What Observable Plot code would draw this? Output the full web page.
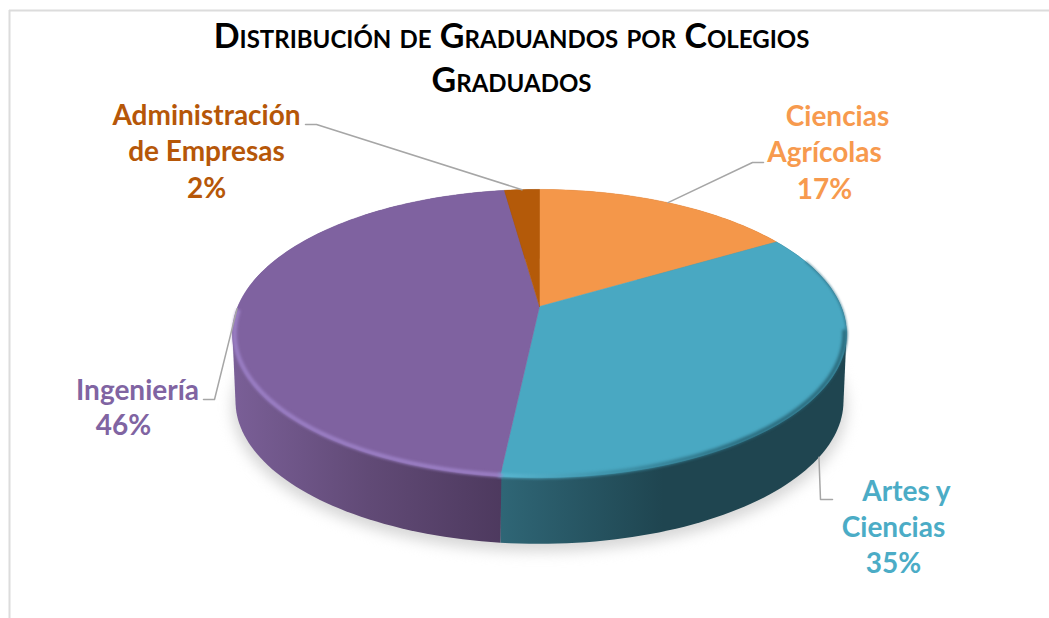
<!DOCTYPE html>
<html>
<head>
<meta charset="utf-8">
<style>html,body{margin:0;padding:0;background:#fff;overflow:hidden}svg{display:block}</style>
<script src="https://cdn.jsdelivr.net/npm/d3@7"></script>
<script src="https://cdn.jsdelivr.net/npm/@observablehq/plot@0.6"></script>
</head>
<body>
<div id="chart"></div>
<script>
// Data (clockwise from the top of the pie); shares read from the slice edges
const categories = ["Ciencias Agrícolas", "Artes y Ciencias", "Ingeniería", "Administración de Empresas"];
const shares = [16.5, 35.2, 46.1, 2.2];
const percentLabels = ["17%", "35%", "46%", "2%"];
const titleLines = ["Distribución de Graduandos por Colegios", "Graduados"];

// Style
const topColors = ["#f4974a", "#49a8c2", "#7f62a0", "#b45a09"];
const labelColors = ["#f79a4e", "#4bacc6", "#8064a2", "#b65708"];
const wallFills = ["#a85f20", "url(#wallTeal)", "url(#wallPurple)", "#7a3d06"];

// Layout of the tilted pie: a circle seen in perspective
const cx = 539, cy = 306, B = 301.6, A = 139, k = 0.1875;
const depth = 68, wallScale = 0.99;
const W = 1049, H = 618;
const rad = d => d * Math.PI / 180;
function rim(deg, s = 1, dy = 0) {
  const t = rad(deg), den = 1 + k * Math.cos(t);
  return {x: cx + s * B * Math.sin(t) / den, y: cy + dy - s * A * Math.cos(t) / den};
}
function arc(d0, d1, s = 1, dy = 0) {
  const n = Math.max(2, Math.ceil(Math.abs(d1 - d0) / 1.5));
  return d3.range(n + 1).map(i => rim(d0 + (d1 - d0) * i / n, s, dy));
}
function hull(points) {
  const h = d3.polygonHull(points.map(p => [p.x, p.y])).map(([x, y]) => ({x, y}));
  h.push(h[0]);
  return h;
}
const total = d3.sum(shares);
let acc = 0;
const slices = shares.map((v, i) => {
  const d0 = acc / total * 360; acc += v;
  return {i, d0, d1: acc / total * 360, mid: (d0 + acc / total * 360) / 2};
});

// Layout of the labels
const labelLines = [
  {i: 0, text: "Ciencias", x: 837, y: 117},
  {i: 0, text: "Agrícolas", x: 824, y: 153},
  {i: 0, text: percentLabels[0], x: 824, y: 190},
  {i: 1, text: "Artes y", x: 906, y: 492},
  {i: 1, text: "Ciencias", x: 893, y: 528},
  {i: 1, text: percentLabels[1], x: 893, y: 564},
  {i: 2, text: "Ingeniería", x: 137, y: 391},
  {i: 2, text: percentLabels[2], x: 123, y: 426},
  {i: 3, text: "Administración", x: 206, y: 116},
  {i: 3, text: "de Empresas", x: 206, y: 152},
  {i: 3, text: percentLabels[3], x: 206, y: 189}
];
const leaderBends = [
  {i: 0, elbow: [752, 162], end: [763, 162], onWall: false},
  {i: 1, elbow: [820, 499], end: [832, 499], onWall: true},
  {i: 2, elbow: [214, 399], end: [203, 399], onWall: false},
  {i: 3, elbow: [316, 124], end: [305, 124], onWall: false}
];

const defs = () => {
  const d = d3.create("svg:defs");
  const grad = (id, stops) => {
    const g = d.append("linearGradient").attr("id", id);
    stops.forEach(([o, c]) => g.append("stop").attr("offset", o).attr("stop-color", c));
  };
  grad("wallPurple", [[0, "#7a5f97"], [0.5, "#614a76"], [1, "#4d395e"]]);
  grad("wallTeal", [[0, "#2f6676"], [0.47, "#1f4550"], [1, "#1f4550"]]);
  grad("rimTeal", [[0, "#5bb8d2"], [0.3, "#3f93aa"], [0.7, "#2a6a7c"], [1, "#2a6a7c"]]);
  return d.node();
};

const marks = [defs];
// frame
marks.push(Plot.ruleX([9], {y1: 10, y2: H, stroke: "#dcdcdc", strokeWidth: 2}));
marks.push(Plot.ruleY([10], {x1: 9, x2: W, stroke: "#dcdcdc", strokeWidth: 2}));
// soft shadow
marks.push(Plot.line(hull(arc(0, 360, 1.0, depth + 6)), {x: "x", y: "y", fill: "#d6d6d6", imageFilter: "blur(7px)"}));
// side walls
slices.forEach(s => {
  const pts = hull([...arc(s.d0, s.d1), ...arc(s.d1, s.d0, wallScale, depth)]);
  marks.push(Plot.line(pts, {x: "x", y: "y", fill: wallFills[s.i], stroke: "none"}));
});
// top face
slices.forEach(s => {
  const pts = [{x: cx, y: cy}, ...arc(s.d0, s.d1), {x: cx, y: cy}];
  marks.push(Plot.line(pts, {x: "x", y: "y", fill: topColors[s.i], stroke: topColors[s.i], strokeWidth: 0.5}));
});
// bevel along the edge of the top face
const bT = slices[1], bP = slices[2];
marks.push(Plot.line(arc(70, 108, 1), {x: "x", y: "y", stroke: "#2f7186", strokeWidth: 2, strokeOpacity: 0.7, imageFilter: "blur(1px)"}));
marks.push(Plot.line(arc(bT.d1, 100, 0.993), {x: "x", y: "y", stroke: "url(#rimTeal)", strokeWidth: 4, imageFilter: "blur(1.5px)"}));
marks.push(Plot.line(arc(bP.d0, 268, 0.993), {x: "x", y: "y", stroke: "#9c80c6", strokeWidth: 4, imageFilter: "blur(1.5px)"}));
// leader lines
leaderBends.forEach(l => {
  const a = rim(slices[l.i].mid, l.onWall ? wallScale : 1, l.onWall ? depth : 0);
  const pts = [a, {x: l.elbow[0], y: l.elbow[1]}, {x: l.end[0], y: l.end[1]}];
  marks.push(Plot.line(pts, {x: "x", y: "y", stroke: "#a6a6a6", strokeWidth: 1.5}));
});
// labels
marks.push(Plot.text(labelLines, {
  x: "x", y: "y", text: "text", fill: d => labelColors[d.i],
  fontSize: 28, fontWeight: 700, fontFamily: "Lato", textAnchor: "middle", lineAnchor: "middle"
}));
// title
marks.push(Plot.text(titleLines, {
  x: () => 511, y: (d, i) => 37 + i * 44, text: d => d,
  fontSize: 34, fontWeight: 700, fontFamily: "Lato", fontVariant: "small-caps",
  fill: "#000", textAnchor: "middle", lineAnchor: "middle"
}));

const chart = Plot.plot({
  width: W, height: H, margin: 0,
  x: {domain: [0, W], range: [0, W], axis: null},
  y: {domain: [0, H], range: [0, H], axis: null},
  color: {type: "identity"},
  style: {background: "#fff"},
  marks
});
document.getElementById("chart").append(chart);
</script>
</body>
</html>
